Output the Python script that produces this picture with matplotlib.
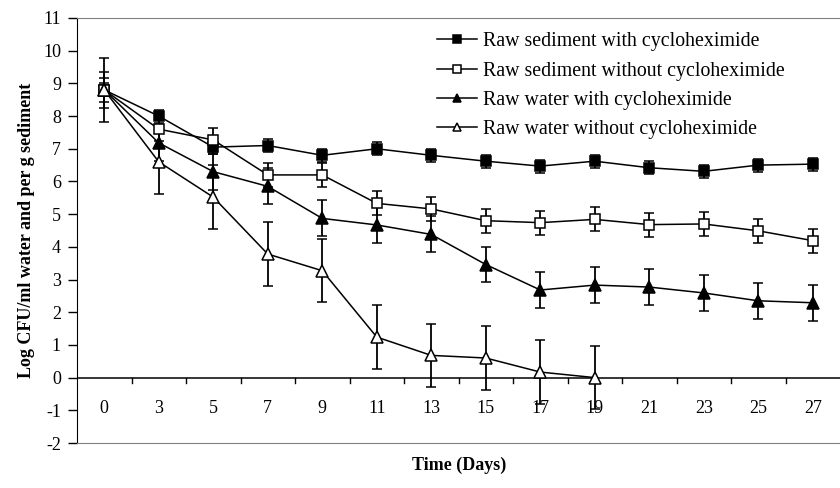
import numpy as np
import matplotlib
matplotlib.use("Agg")
import matplotlib.pyplot as plt

days = ["0", "3", "5", "7", "9", "11", "13", "15", "17", "19", "21", "23", "25", "27"]

sed_with = [8.8, 8.0, 7.05, 7.1, 6.8, 7.0, 6.8, 6.62, 6.47, 6.62, 6.42, 6.31, 6.5, 6.53]
sed_without = [8.8, 7.6, 7.27, 6.2, 6.2, 5.33, 5.16, 4.8, 4.74, 4.84, 4.68, 4.7, 4.49, 4.19]
water_with = [8.8, 7.18, 6.3, 5.85, 4.87, 4.67, 4.38, 3.46, 2.68, 2.83, 2.77, 2.59, 2.35, 2.29]
water_without = [8.8, 6.6, 5.52, 3.78, 3.27, 1.24, 0.68, 0.6, 0.17, 0.0]

err_sed_with = 0.2
err_sed_without = 0.37
err_water_with = 0.55
err_water_without = 0.97

plt.rcParams["font.family"] = ["Liberation Serif", "DejaVu Serif"]
plt.rcParams["axes.unicode_minus"] = False

fig = plt.figure(figsize=(8.4, 4.88), dpi=100)
ax = fig.add_axes([77/840, 1-443/488, 1-77/840, (443-18)/488])

x = np.arange(len(days))
series = [
    (sed_with, err_sed_with, "s", "black", "Raw sediment with cycloheximide"),
    (sed_without, err_sed_without, "s", "white", "Raw sediment without cycloheximide"),
    (water_with, err_water_with, "^", "black", "Raw water with cycloheximide"),
    (water_without, err_water_without, "^", "white", "Raw water without cycloheximide"),
]
for vals, err, mk, fc, lab in series:
    xs = x[:len(vals)]
    ax.errorbar(xs, vals, yerr=err, color="black", lw=1.1, elinewidth=1.3, capsize=3.7, capthick=1.3,
                marker=mk, ms=7.5 if mk == "s" else 8.5, mfc=fc, mec="black", mew=1.1, label=lab, zorder=3)

ax.set_xlim(-0.5, len(days) - 0.5)
ax.set_ylim(-2, 11)
ax.set_yticks(range(-2, 12))
ax.tick_params(axis="y", direction="out", length=6.5, width=1, labelsize=13, pad=5)
ax.set_xticks([])

# category x-axis drawn at y = 0, ticks between categories
ax.axhline(0, color="black", lw=1.1, zorder=2)
for b in np.arange(0.5, len(days) - 0.5):
    ax.plot([b, b], [0, -0.17], color="black", lw=1, clip_on=False, zorder=2)
for i, d in enumerate(days):
    ax.text(i, -0.93, d, ha="center", va="center", fontsize=13)

for s in ["top", "bottom"]:
    ax.spines[s].set_color("#808080")
ax.spines["right"].set_visible(False)
ax.spines["left"].set_color("black")

ax.set_ylabel("Log CFU/ml water and per g sediment", fontsize=13, fontweight="bold", labelpad=6)
fig.text(459/840, 1-465/488, "Time (Days)", ha="center", va="center", fontsize=13, fontweight="bold")

handles, labels = ax.get_legend_handles_labels()
handles = [h[0] for h in handles]
leg = ax.legend(handles, labels, loc="upper left", bbox_to_anchor=(0.462, 0.985), frameon=False,
                fontsize=14.3, handlelength=2.0, handletextpad=0.3, labelspacing=0.52, borderaxespad=0)
for h in leg.legend_handles:
    h.set_markersize(5.5)

fig.savefig("out.png", dpi=100)
